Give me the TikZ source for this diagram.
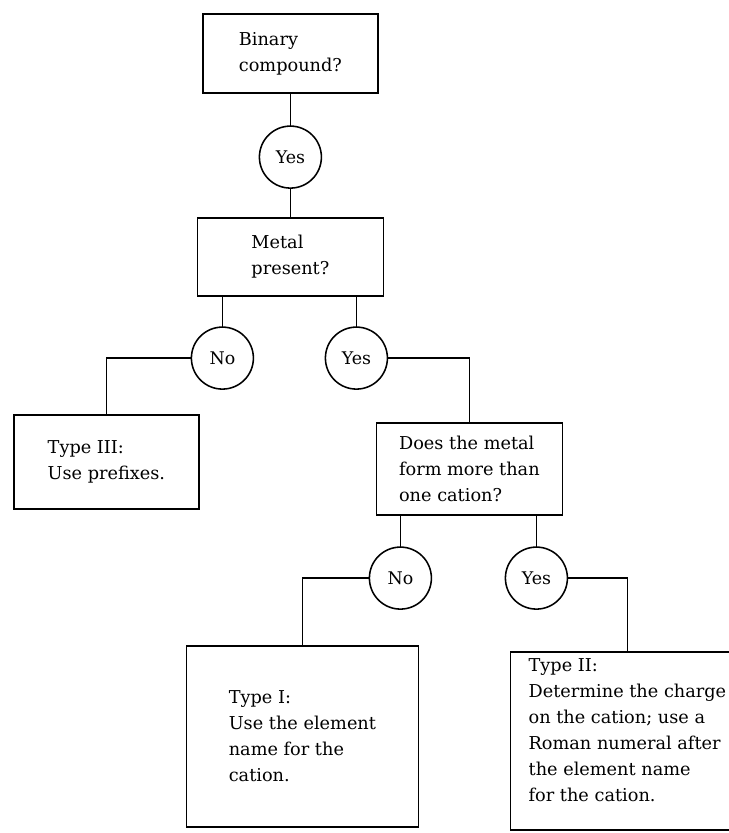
\documentclass[tikz,border=0pt]{standalone}
\usepackage{fontspec}
\setmainfont{DejaVu Serif}
\usepackage{tikz}
\usetikzlibrary{positioning}

\begin{document}
\begin{tikzpicture}[
    box/.style={rectangle, draw=black, line width=1.1pt, align=left,
                font=\fontsize{12.6}{18.5}\selectfont, inner sep=0pt,
                outer sep=0pt},
    ans/.style={circle, draw=black, line width=1.1pt, minimum size=15.5mm,
                inner sep=0pt, outer sep=0pt,
                font=\fontsize{12.4}{14}\selectfont},
    link/.style={line width=1.1pt, black}
]
\useasboundingbox (0,0) rectangle (182mm,-208.25mm);

% Row 1: first question
\node[box, minimum width=43.75mm, minimum height=19.75mm]
      at (72.6mm,-13.4mm) (binary) {Binary\\compound?};
\node[ans, below=8.25mm of binary] (yesA) {Yes};

% Row 2: metal question
\node[box, minimum width=46.5mm, minimum height=19.5mm,
      below=7.5mm of yesA] (metal) {Metal\\present?};
\node[ans, below=7.75mm of metal, xshift=-17mm]  (noB)  {No};
\node[ans, below=7.75mm of metal, xshift=16.5mm] (yesB) {Yes};

% Row 3: type III and cation question
\node[box, minimum width=46.25mm, minimum height=23.5mm,
      below=6.5mm of noB, xshift=-29mm] (typeiii) {Type III:\\Use prefixes.};
\node[box, minimum width=46.5mm, minimum height=23mm,
      below=8.5mm of yesB, xshift=28.25mm] (cation)
      {Does the metal\\form more than\\one cation?};
\node[ans, below=8mm of cation, xshift=-17.25mm] (noC)  {No};
\node[ans, below=8mm of cation, xshift=16.75mm]  (yesC) {Yes};

% Row 4: type I and type II
\node[box, minimum width=58mm, minimum height=45.25mm,
      below=9.25mm of noC, xshift=-24.5mm] (typei)
      {Type I:\\Use the element\\name for the\\cation.};
\node[box, minimum width=58.5mm, minimum height=44.5mm, text depth=5.5mm,
      below=10.75mm of yesC, xshift=22.75mm] (typeii)
      {Type II:\\Determine the charge\\on the cation; use a\\Roman numeral after\\the element name\\for the cation.};

% Connectors
\draw[link] (binary) -- (yesA);
\draw[link] (yesA)   -- (metal);
\draw[link] (noB)    -- (noB |- metal.south);
\draw[link] (yesB)   -- (yesB |- metal.south);
\draw[link] (noB)    -| (typeiii);
\draw[link] (yesB)   -| (cation);
\draw[link] (noC)    -- (noC |- cation.south);
\draw[link] (yesC)   -- (yesC |- cation.south);
\draw[link] (noC)    -| (typei);
\draw[link] (yesC)   -| (typeii);

\end{tikzpicture}
\end{document}
